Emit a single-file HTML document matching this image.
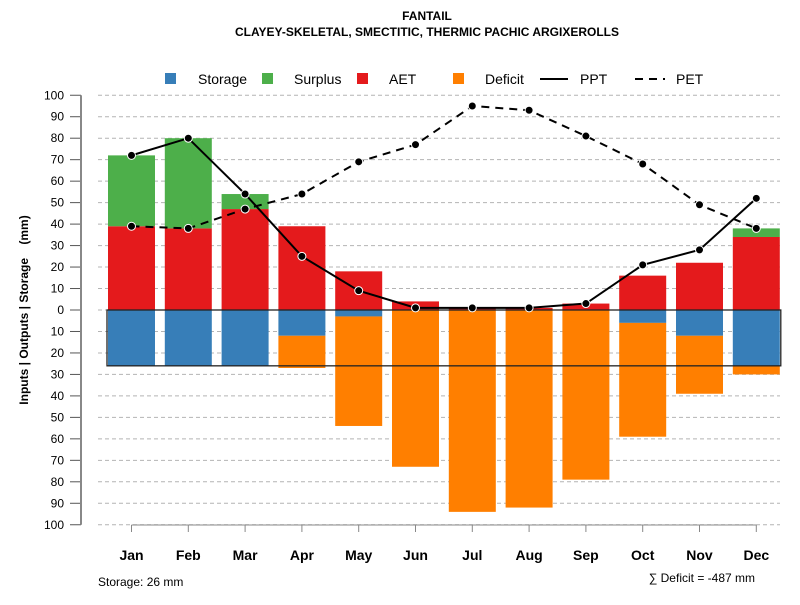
<!DOCTYPE html>
<html><head><meta charset="utf-8"><style>
body{margin:0;background:#fff;font-family:"Liberation Sans",Arial,sans-serif}
svg text{font-family:"Liberation Sans",Arial,sans-serif}
</style></head><body>
<svg id="c" width="800" height="600" viewBox="0 0 800 600">
<text x="427" y="20" text-anchor="middle" font-size="12" font-weight="bold">FANTAIL</text>
<text x="427" y="36" text-anchor="middle" font-size="12" font-weight="bold">CLAYEY-SKELETAL, SMECTITIC, THERMIC PACHIC ARGIXEROLLS</text>
<g font-size="14">
<rect x="165" y="73" width="11" height="11" fill="#377eb8"/><text x="198" y="84">Storage</text>
<rect x="262" y="73" width="11" height="11" fill="#4daf4a"/><text x="294" y="84">Surplus</text>
<rect x="357" y="73" width="11" height="11" fill="#e41a1c"/><text x="389" y="84">AET</text>
<rect x="453" y="73" width="11" height="11" fill="#ff7f00"/><text x="485" y="84">Deficit</text>
<line x1="540" y1="79" x2="568" y2="79" stroke="#000" stroke-width="2"/><text x="580" y="84">PPT</text>
<line x1="635" y1="79" x2="665" y2="79" stroke="#000" stroke-width="2" stroke-dasharray="8,6"/><text x="676" y="84">PET</text>
</g>
<text transform="translate(28,310) rotate(-90)" text-anchor="middle" font-size="12" font-weight="bold">Inputs | Outputs | Storage&#160;&#160;&#160;&#160;(mm)</text>
<text x="98" y="586" font-size="12">Storage: 26 mm</text>
<text x="755" y="582" text-anchor="end" font-size="12">∑ Deficit = -487 mm</text>
<g id="grid"></g><g id="bars"></g><g id="lines"></g><g id="axes"></g>
</svg>
<script>
const months=["Jan","Feb","Mar","Apr","May","Jun","Jul","Aug","Sep","Oct","Nov","Dec"];
const storage=[26,26,26,12,3,0,0,0,0,6,12,26];
const deficit=[0,0,0,15,51,73,94,92,79,53,27,4];
const aet=[39,38,47,39,18,4,1,1,3,16,22,34];
const surplus=[33,42,7,0,0,0,0,0,0,0,0,4];
const ppt=[72,80,54,25,9,1,1,1,3,21,28,52];
const pet=[39,38,47,54,69,77,95,93,81,68,49,38];
const yTicks=[100,90,80,70,60,50,40,30,20,10,0,-10,-20,-30,-40,-50,-60,-70,-80,-90,-100];
const storageCap=26;
const NS="http://www.w3.org/2000/svg";
const y=v=>310-v*2.1475;
const x=i=>131.5+i*56.8;
const bw=47;
function mk(t,a,p){const e=document.createElementNS(NS,t);for(const k in a)e.setAttribute(k,a[k]);document.getElementById(p).appendChild(e);return e;}
yTicks.forEach(v=>{
 const g=mk('line',{x1:98,x2:780,y1:y(v),y2:y(v),stroke:'#b4b4b4','stroke-dasharray':'4,3'},'grid');
 
 
 const t=mk('line',{x1:70,x2:81,y1:y(v),y2:y(v),stroke:'#555'},'axes');
 
 
 const l=mk('text',{x:64,y:y(v)+4,'text-anchor':'end','font-size':12},'axes');
 l.textContent=Math.abs(v);
 
 
});
const ax=mk('line',{x1:81,x2:81,y1:y(100),y2:y(-100),stroke:'#888','stroke-width':2},'axes');


const bx=mk('line',{x1:x(0),x2:x(11),y1:525,y2:525,stroke:'#888'},'axes');


function bar(i,a,b,c,n){const r=mk('rect',{x:x(i)-bw/2,y:y(Math.max(a,b)),width:bw,height:Math.abs(y(a)-y(b)),fill:c},'bars');
 
 }
months.forEach((m,i)=>{
 if(storage[i])bar(i,0,-storage[i],'#377eb8','storage');
 if(deficit[i])bar(i,-storage[i],-storage[i]-deficit[i],'#ff7f00','deficit');
 if(aet[i])bar(i,0,aet[i],'#e41a1c','aet');
 if(surplus[i])bar(i,aet[i],aet[i]+surplus[i],'#4daf4a','surplus');
 const t=mk('line',{x1:x(i),x2:x(i),y1:525,y2:532,stroke:'#888'},'axes');
 
 
 const l=mk('text',{x:x(i),y:560,'text-anchor':'middle','font-size':14,'font-weight':'bold'},'axes');
 l.textContent=m;
 
 
});
const box=mk('rect',{x:x(0)-bw/2-1,y:y(0),width:x(11)+bw/2-x(0)+bw/2+2,height:y(-storageCap)-y(0),fill:'none',stroke:'#222','stroke-width':1.3},'bars');


function series(d,dash,n){
 const p=mk('polyline',{points:d.map((v,i)=>x(i)+','+y(v)).join(' '),fill:'none',stroke:'#000','stroke-width':2,'stroke-dasharray':dash},'lines');
 
 
 d.forEach((v,i)=>{const c=mk('circle',{cx:x(i),cy:y(v),r:4,fill:'#000',stroke:'#fff','stroke-width':1},'lines');
  
  });
}
series(pet,'8,6','pet');
series(ppt,'none','ppt');
</script>
</body></html>
